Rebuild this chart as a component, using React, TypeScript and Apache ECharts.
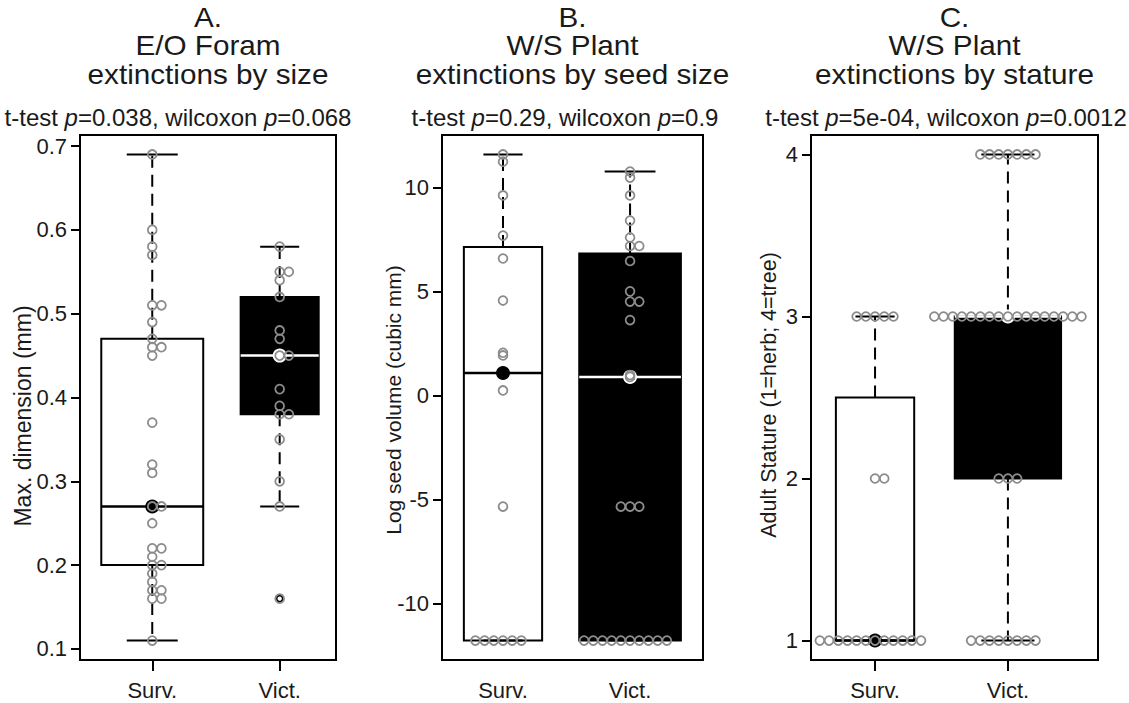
import React, { useEffect, useRef } from "react";
import * as echarts from "echarts";

const categories = ["Surv.", "Vict."];

// Panel A: E/O forams, maximum dimension (mm)
const foramSurv = [0.69, 0.6, 0.58, 0.57, 0.51, 0.51, 0.49, 0.47, 0.46, 0.46, 0.45, 0.37, 0.32, 0.31, 0.27, 0.27, 0.25, 0.22, 0.22, 0.21, 0.2, 0.2, 0.19, 0.18, 0.17, 0.17, 0.16, 0.16, 0.11];
const foramVict = [0.58, 0.55, 0.55, 0.54, 0.52, 0.48, 0.47, 0.45, 0.45, 0.41, 0.39, 0.38, 0.38, 0.35, 0.3, 0.27, 0.16];

// Panel B: W/S plants, log seed volume
const seedSurv = [11.6, 11.25, 9.63, 7.7, 6.6, 4.58, 2.07, 1.94, 0.26, -5.32, -11.76, -11.76, -11.76, -11.76, -11.76, -11.76];
const seedVict = [10.78, 10.49, 9.63, 8.42, 7.61, 7.2, 7.2, 6.48, 5.02, 4.53, 4.53, 3.64, 1.0, 0.91, -5.32, -5.32, -5.32, -11.76, -11.76, -11.76, -11.76, -11.76, -11.76, -11.76, -11.76, -11.76, -11.76];

// Panel C: W/S plants, adult stature
const statureSurv = [3, 3, 3, 3, 3, 2, 2, 1, 1, 1, 1, 1, 1, 1, 1, 1, 1, 1, 1];
const statureVict = [4, 4, 4, 4, 4, 4, 4, 3, 3, 3, 3, 3, 3, 3, 3, 3, 3, 3, 3, 3, 3, 3, 3, 3, 2, 2, 2, 1, 1, 1, 1, 1, 1, 1, 1];

const foramTicks = [0.1, 0.2, 0.3, 0.4, 0.5, 0.6, 0.7];
const seedTicks = [-10, -5, 0, 5, 10];
const statureTicks = [1, 2, 3, 4];

const panelLetters = ["A.", "B.", "C."];
const panelGroups = ["E/O Foram", "W/S Plant", "W/S Plant"];
const panelTopics = ["extinctions by size", "extinctions by seed size", "extinctions by stature"];
const tTestP = ["0.038", "0.29", "5e-04"];
const wilcoxonP = ["0.068", "0.9", "0.0012"];
const yNames = ["Max. dimension (mm)", "Log seed volume (cubic mm)", "Adult Stature (1=herb; 4=tree)"];

const FONT = '"Liberation Sans", Arial, Helvetica, sans-serif';
const TEXT = "#1a1a1a";
const POINT = "#8c8c8c";

const GRID_TOP = 135;
const GRID_H = 525;
const layouts = [
  { left: 80, width: 256, xMin: 0.433, xMax: 2.442, subX: 178, tieSide: 1, nameX: 23, nameY: 416, nameSize: 23 },
  { left: 442, width: 261, xMin: 0.52, xMax: 2.574, subX: 565, tieSide: -1, nameX: 393, nameY: 400, nameSize: 21 },
  { left: 811, width: 287, xMin: 0.518, xMax: 2.678, subX: 946, tieSide: -1, nameX: 769, nameY: 395, nameSize: 21.5 },
];

function fivenum(v: number[]) {
  const x = [...v].sort((a, b) => a - b);
  const n = x.length;
  const n4 = Math.floor((n + 3) / 2) / 2;
  const d = [1, n4, (n + 1) / 2, n + 1 - n4, n];
  return d.map((di) => 0.5 * (x[Math.floor(di) - 1] + x[Math.ceil(di) - 1]));
}

function boxStats(v: number[]) {
  const f = fivenum(v);
  const iqr = f[3] - f[1];
  const loF = f[1] - 1.5 * iqr;
  const hiF = f[3] + 1.5 * iqr;
  const inside = v.filter((a) => a >= loF && a <= hiF);
  return {
    lo: Math.min(...inside),
    q1: f[1],
    med: f[2],
    q3: f[3],
    hi: Math.max(...inside),
    out: v.filter((a) => a < loF || a > hiF),
    n: v.length,
  };
}

// swarm-style layout (pixel offsets), ascending priority
function swarm(values: number[], pxPerUnit: number, dx: number, dy: number, rowSide: number) {
  const idx = values.map((_, i) => i).sort((a, b) => values[a] - values[b] || a - b);
  const placed: { x: number; y: number }[] = [];
  const out: number[] = values.map(() => 0);
  for (const i of idx) {
    const ties = values.filter((v) => v === values[i]).length;
    const side = ties === 2 ? 1 : rowSide;
    const y = values[i] * pxPerUnit;
    const near = placed.filter((p) => Math.abs(p.y - y) < dy - 1e-9);
    const cands = [0];
    for (const p of near) cands.push(p.x + side * dx * Math.sqrt(1 - ((p.y - y) / dy) ** 2));
    for (const p of near) cands.push(p.x - side * dx * Math.sqrt(1 - ((p.y - y) / dy) ** 2));
    const ok = cands.filter((c) => near.every((p) => ((c - p.x) / dx) ** 2 + ((y - p.y) / dy) ** 2 >= 1 - 1e-6));
    let best = ok[0];
    for (const c of ok) if (Math.abs(c) < Math.abs(best) - 1e-9) best = c;
    placed.push({ x: best, y });
    out[i] = best;
  }
  return out;
}

const panels = [
  { groups: [foramSurv, foramVict], ticks: foramTicks },
  { groups: [seedSurv, seedVict], ticks: seedTicks },
  { groups: [statureSurv, statureVict], ticks: statureTicks },
];

function fmtTick(v: number) {
  return String(Math.round(v * 1000) / 1000);
}

export default function App() {
  const ref = useRef<HTMLDivElement>(null);
  useEffect(() => {
    if (!ref.current) return;
    const chart = echarts.init(ref.current, undefined, { renderer: "svg" });

    const grid: any[] = [];
    const xAxis: any[] = [];
    const yAxis: any[] = [];
    const series: any[] = [];
    const graphic: any[] = [];

    panels.forEach((panel, pi) => {
      const L = layouts[pi];
      const all = panel.groups.flat();
      const dMin = Math.min(...all);
      const dMax = Math.max(...all);
      const ext = (dMax - dMin) * 0.04;
      const yMin = dMin - ext;
      const yMax = dMax + ext;
      const pxPerUnit = GRID_H / (yMax - yMin);

      grid.push({
        left: L.left,
        top: GRID_TOP,
        width: L.width,
        height: GRID_H,
        show: true,
        borderColor: "#000",
        borderWidth: 2,
        backgroundColor: "transparent",
      });
      xAxis.push({
        type: "value",
        gridIndex: pi,
        min: L.xMin,
        max: L.xMax,
        axisLine: { show: false },
        splitLine: { show: false },
        axisTick: { show: true, customValues: [1, 2], length: 11, lineStyle: { color: "#000", width: 2 } },
        axisLabel: {
          show: true,
          customValues: [1, 2],
          formatter: (v: number) => categories[Math.round(v) - 1] || "",
          fontFamily: FONT,
          fontSize: 22,
          color: TEXT,
          margin: 19,
        },
      });
      yAxis.push({
        type: "value",
        gridIndex: pi,
        min: yMin,
        max: yMax,
        axisLine: { show: false },
        splitLine: { show: false },
        axisTick: { show: true, customValues: panel.ticks, length: 9, lineStyle: { color: "#000", width: 2 } },
        axisLabel: {
          show: true,
          customValues: panel.ticks,
          formatter: (v: number) => fmtTick(v),
          fontFamily: FONT,
          fontSize: 22,
          color: TEXT,
          margin: 13,
        },
      });

      const stats = panel.groups.map((g) => boxStats(g));
      const maxSqrt = Math.max(...stats.map((s) => Math.sqrt(s.n)));
      const boxData = stats.map((s, gi) => [gi + 1, s.lo, s.q1, s.med, s.q3, s.hi, (0.8 * Math.sqrt(s.n)) / maxSqrt, gi]);

      series.push({
        type: "custom",
        xAxisIndex: pi,
        yAxisIndex: pi,
        z: 2,
        encode: { x: 0, y: [1, 2, 3, 4, 5] },
        data: boxData,
        renderItem: (params: any, api: any) => {
          const g = api.value(0);
          const lo = api.value(1), q1 = api.value(2), med = api.value(3), q3 = api.value(4), hi = api.value(5);
          const w = api.value(6);
          const gi = api.value(7);
          const pm = api.coord([g, med]);
          const cx = pm[0];
          const half = api.coord([g + w / 2, med])[0] - cx;
          const yLo = api.coord([g, lo])[1];
          const yQ1 = api.coord([g, q1])[1];
          const yQ3 = api.coord([g, q3])[1];
          const yHi = api.coord([g, hi])[1];
          const fill = gi === 0 ? "#fff" : "#000";
          const medColor = gi === 0 ? "#000" : "#fff";
          const wStyle = { stroke: "#000", lineWidth: 2, lineDash: [12, 7] };
          return {
            type: "group",
            children: [
              { type: "rect", shape: { x: cx - half, y: yQ3, width: 2 * half, height: yQ1 - yQ3 }, style: { fill, stroke: "#000", lineWidth: 2 } },
              { type: "line", shape: { x1: cx - half, y1: pm[1], x2: cx + half, y2: pm[1] }, style: { stroke: medColor, lineWidth: 2.5 } },
              { type: "line", shape: { x1: cx, y1: yQ3, x2: cx, y2: yHi }, style: wStyle },
              { type: "line", shape: { x1: cx, y1: yQ1, x2: cx, y2: yLo }, style: wStyle },
              { type: "line", shape: { x1: cx - half / 2, y1: yHi, x2: cx + half / 2, y2: yHi }, style: { stroke: "#000", lineWidth: 2 } },
              { type: "line", shape: { x1: cx - half / 2, y1: yLo, x2: cx + half / 2, y2: yLo }, style: { stroke: "#000", lineWidth: 2 } },
            ],
          };
        },
      });

      // median marker disks
      series.push({
        type: "custom",
        xAxisIndex: pi,
        yAxisIndex: pi,
        z: 3,
        encode: { x: 0, y: 1 },
        data: stats.map((s, gi) => [gi + 1, s.med, gi]),
        renderItem: (params: any, api: any) => {
          const p = api.coord([api.value(0), api.value(1)]);
          return { type: "circle", shape: { cx: p[0], cy: p[1], r: 7 }, style: { fill: api.value(2) === 0 ? "#000" : "#fff" } };
        },
      });

      // outliers (R boxplot default symbol)
      const outData: number[][] = [];
      stats.forEach((s, gi) => s.out.forEach((v) => outData.push([gi + 1, v])));
      series.push({
        type: "custom",
        xAxisIndex: pi,
        yAxisIndex: pi,
        z: 4,
        encode: { x: 0, y: 1 },
        data: outData,
        renderItem: (params: any, api: any) => {
          const p = api.coord([api.value(0), api.value(1)]);
          return { type: "circle", shape: { cx: p[0], cy: p[1], r: 3 }, style: { fill: "none", stroke: "#000", lineWidth: 1.6 } };
        },
      });

      // swarm points
      const ptData: number[][] = [];
      panel.groups.forEach((g, gi) => {
        const offs = swarm(g, pxPerUnit, 9.2, 1.5, L.tieSide);
        g.forEach((v, i) => ptData.push([gi + 1, v, offs[i]]));
      });
      series.push({
        type: "custom",
        xAxisIndex: pi,
        yAxisIndex: pi,
        z: 5,
        encode: { x: 0, y: 1 },
        data: ptData,
        renderItem: (params: any, api: any) => {
          const p = api.coord([api.value(0), api.value(1)]);
          return { type: "circle", shape: { cx: p[0] + api.value(2), cy: p[1], r: 4.4 }, style: { fill: "none", stroke: POINT, lineWidth: 1.8 } };
        },
      });

      const cxTitle = L.left + L.width / 2;
      const lines = [panelLetters[pi], panelGroups[pi], panelTopics[pi]];
      lines.forEach((t, li) => {
        graphic.push({
          type: "text",
          x: cxTitle,
          y: 17 + li * 28.5,
          scaleX: 1.1,
          style: { text: t, fontFamily: FONT, fontSize: 27, lineHeight: 27, fill: TEXT, align: "center", verticalAlign: "middle" },
        });
      });
      graphic.push({
        type: "text",
        x: L.subX,
        y: 117,
        style: {
          text: `t-test {i|p}=${tTestP[pi]}, wilcoxon {i|p}=${wilcoxonP[pi]}`,
          fontFamily: FONT,
          fontSize: 24,
          fill: TEXT,
          align: "center",
          verticalAlign: "middle",
          rich: { i: { fontFamily: FONT, fontSize: 24, fontStyle: "italic", fill: TEXT } },
        },
      });
      graphic.push({
        type: "text",
        x: L.nameX,
        y: L.nameY,
        rotation: Math.PI / 2,
        style: { text: yNames[pi], fontFamily: FONT, fontSize: L.nameSize, fill: TEXT, align: "center", verticalAlign: "middle" },
      });
    });

    chart.setOption({
      animation: false,
      backgroundColor: "#fff",
      grid,
      xAxis,
      yAxis,
      series,
      graphic,
    });
    return () => chart.dispose();
  }, []);

  return <div ref={ref} style={{ position: "absolute", left: 0, top: 0, width: 1129, height: 703 }} />;
}
